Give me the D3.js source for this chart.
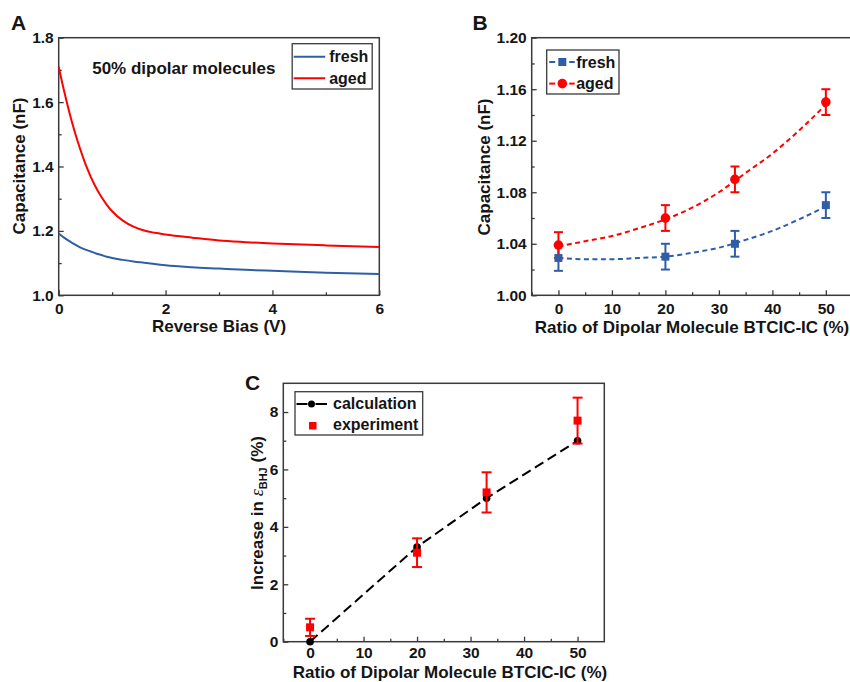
<!DOCTYPE html>
<html>
<head>
<meta charset="utf-8">
<script src="https://cdn.jsdelivr.net/npm/d3@7"></script>
<style>
  body { margin: 0; background: #fff; }
  svg text { font-family: "Liberation Sans", Arial, sans-serif; font-weight: bold; fill: #151515; }
</style>
</head>
<body>
<svg id="fig" width="850" height="682"></svg>
<script>
// ---- panel A: C-V curves, 50% dipolar molecules
const biasV  = [0, 0.1, 0.2, 0.3, 0.4, 0.5, 0.6, 0.7, 0.8, 0.9, 1.0, 1.2, 1.4, 1.6, 1.8, 2.0, 2.5, 3.0, 3.5, 4.0, 5.0, 6.0];
const freshA = [1.192, 1.179, 1.168, 1.158, 1.149, 1.142, 1.136, 1.130, 1.125, 1.120, 1.116, 1.110, 1.105, 1.101, 1.097, 1.093, 1.087, 1.083, 1.079, 1.076, 1.070, 1.066];
const agedA  = [1.710, 1.635, 1.568, 1.508, 1.455, 1.408, 1.368, 1.334, 1.305, 1.281, 1.261, 1.232, 1.213, 1.201, 1.194, 1.189, 1.179, 1.170, 1.165, 1.161, 1.155, 1.150];

// ---- panel B: capacitance vs ratio
const ratioB    = [0, 20, 33, 50];
const freshB    = [1.029, 1.030, 1.040, 1.070];
const freshErrB = [0.010, 0.010, 0.010, 0.010];
const agedB     = [1.039, 1.060, 1.090, 1.150];
const agedErrB  = [0.010, 0.010, 0.010, 0.010];
const fitX      = [0, 5, 10, 15, 20, 25, 30, 35, 40, 45, 50];
const freshFit  = [1.029, 1.028, 1.028, 1.029, 1.030, 1.033, 1.037, 1.043, 1.050, 1.059, 1.069];
const agedFit   = [1.038, 1.042, 1.046, 1.052, 1.059, 1.068, 1.080, 1.095, 1.110, 1.128, 1.148];

// ---- panel C: increase in epsilon
const ratioC   = [0, 20, 33, 50];
const calcC    = [0, 3.3, 5.0, 7.0];
const expC     = [0.5, 3.1, 5.2, 7.7];
const expErrC  = [0.3, 0.5, 0.7, 0.8];

const BLUE = "#2e5fa6", RED = "#ff0000", AXIS = "#3a3a3a";
const svg = d3.select("#fig");

function panel(left, top, w, h, xDom, yDom, o) {
  const g = svg.append("g").attr("transform", `translate(${left},${top})`);
  const x = d3.scaleLinear().domain(xDom).range([0, w]);
  const y = d3.scaleLinear().domain(yDom).range([h, 0]);

  g.append("g").attr("transform", `translate(0,${h})`)
    .call(d3.axisBottom(x).tickValues(o.xt).tickSize(-5).tickPadding(o.xpad).tickFormat(d3.format("d")));
  g.append("g").attr("transform", `translate(0,${h})`)
    .call(d3.axisBottom(x).tickValues(o.xm).tickSize(-3).tickFormat(""));
  g.append("g")
    .call(d3.axisLeft(y).tickValues(o.yt).tickSize(-5).tickPadding(5).tickFormat(d3.format(o.yfmt)));
  g.append("g")
    .call(d3.axisLeft(y).tickValues(o.ym).tickSize(-3).tickFormat(""));
  g.selectAll(".domain").remove();
  g.selectAll(".tick line").attr("stroke", AXIS).attr("stroke-width", 1.3);
  g.selectAll(".tick text").style("font-size", "15.5px").attr("fill", "#151515");

  g.append("rect").attr("width", w).attr("height", h)
    .attr("fill", "none").attr("stroke", AXIS).attr("stroke-width", 1.5);
  return { g, x, y };
}

function errBars(g, x, y, xs, ys, es, color, cap) {
  xs.forEach((xv, i) => {
    const cx = x(xv), y0 = y(ys[i] - es[i]), y1 = y(ys[i] + es[i]);
    g.append("line").attr("x1", cx).attr("x2", cx).attr("y1", y0).attr("y2", y1)
      .attr("stroke", color).attr("stroke-width", 2);
    [y0, y1].forEach(yy => g.append("line")
      .attr("x1", cx - cap).attr("x2", cx + cap).attr("y1", yy).attr("y2", yy)
      .attr("stroke", color).attr("stroke-width", 2));
  });
}

// legend line drawn as two short pieces either side of the marker
function legendDash(lg, x0, x1, x2, x3, yy, color) {
  [[x0, x1], [x2, x3]].forEach(([a, b]) => lg.append("line")
    .attr("x1", a).attr("x2", b).attr("y1", yy).attr("y2", yy)
    .attr("stroke", color).attr("stroke-width", 2));
}

// ================= A =================
{
  const { g, x, y } = panel(58.7, 37.7, 320.6, 257.6, [0, 6], [1.0, 1.8], {
    xt: [0, 2, 4, 6], xm: [1, 3, 5], yt: [1.0, 1.2, 1.4, 1.6, 1.8], ym: [1.1, 1.3, 1.5, 1.7],
    yfmt: ".1f", xpad: 8
  });
  const line = d3.line().x((d, i) => x(biasV[i])).y(d => y(d)).curve(d3.curveMonotoneX);
  g.append("path").attr("d", line(freshA)).attr("fill", "none").attr("stroke", BLUE).attr("stroke-width", 2);
  g.append("path").attr("d", line(agedA)).attr("fill", "none").attr("stroke", RED).attr("stroke-width", 2);

  g.append("text").attr("x", 33.5).attr("y", 36.5).style("font-size", "17px").text("50% dipolar molecules");

  const lg = g.append("g").attr("transform", "translate(233.5,6)");
  lg.append("rect").attr("width", 80).attr("height", 45.3).attr("fill", "#fff").attr("stroke", AXIS).attr("stroke-width", 1.3);
  [["fresh", BLUE], ["aged", RED]].forEach(([t, c], i) => {
    const yy = 13 + i * 21.6;
    lg.append("line").attr("x1", 1.5).attr("x2", 33).attr("y1", yy).attr("y2", yy).attr("stroke", c).attr("stroke-width", 2);
    lg.append("text").attr("x", 37).attr("y", yy + 5.5).style("font-size", "16px").text(t);
  });

  svg.append("text").attr("x", 219).attr("y", 332).attr("text-anchor", "middle").style("font-size", "17px").text("Reverse Bias (V)");
  svg.append("text").attr("transform", "translate(25,166) rotate(-90)").attr("text-anchor", "middle")
    .style("font-size", "17px").text("Capacitance (nF)");
  svg.append("text").attr("x", 11).attr("y", 29.5).style("font-size", "21px").text("A");
}

// ================= B =================
{
  const { g, x, y } = panel(531.7, 37.7, 320.9, 257.6, [-5, 55], [1.0, 1.2], {
    xt: [0, 10, 20, 30, 40, 50], xm: [-5, 5, 15, 25, 35, 45], yt: [1.0, 1.04, 1.08, 1.12, 1.16, 1.2],
    ym: [1.02, 1.06, 1.1, 1.14, 1.18], yfmt: ".2f", xpad: 8
  });
  const line = d3.line().x((d, i) => x(fitX[i])).y(d => y(d)).curve(d3.curveMonotoneX);
  g.append("path").attr("d", line(freshFit)).attr("fill", "none").attr("stroke", BLUE)
    .attr("stroke-width", 2).attr("stroke-dasharray", "5,3.5");
  g.append("path").attr("d", line(agedFit)).attr("fill", "none").attr("stroke", RED)
    .attr("stroke-width", 2).attr("stroke-dasharray", "5,3.5");

  errBars(g, x, y, ratioB, freshB, freshErrB, BLUE, 4.5);
  errBars(g, x, y, ratioB, agedB, agedErrB, RED, 4.5);
  g.selectAll(".sq").data(ratioB).enter().append("rect").attr("class", "sq")
    .attr("x", (d) => x(d) - 4).attr("y", (d, i) => y(freshB[i]) - 4)
    .attr("width", 8).attr("height", 8).attr("fill", BLUE);
  g.selectAll(".dot").data(ratioB).enter().append("circle").attr("class", "dot")
    .attr("cx", d => x(d)).attr("cy", (d, i) => y(agedB[i])).attr("r", 4.8).attr("fill", RED);

  const lg = g.append("g").attr("transform", "translate(15,12.3)");
  lg.append("rect").attr("width", 72.3).attr("height", 44).attr("fill", "#fff").attr("stroke", AXIS).attr("stroke-width", 1.3);
  [["fresh", BLUE, "sq"], ["aged", RED, "dot"]].forEach(([t, c, m], i) => {
    const yy = 12 + i * 21.6;
    legendDash(lg, 2.5, 8.5, 22.5, 28, yy, c);
    if (m === "sq") lg.append("rect").attr("x", 11.6).attr("y", yy - 4).attr("width", 8).attr("height", 8).attr("fill", c);
    else lg.append("circle").attr("cx", 15.6).attr("cy", yy).attr("r", 4.8).attr("fill", c);
    lg.append("text").attr("x", 29.5).attr("y", yy + 5.5).style("font-size", "16px").text(t);
  });

  svg.append("text").attr("x", 692).attr("y", 333).attr("text-anchor", "middle").style("font-size", "17px")
    .text("Ratio of Dipolar Molecule BTCIC-IC (%)");
  svg.append("text").attr("transform", "translate(490,167) rotate(-90)").attr("text-anchor", "middle")
    .style("font-size", "17px").text("Capacitance (nF)");
  svg.append("text").attr("x", 472.5).attr("y", 29.5).style("font-size", "21px").text("B");
}

// ================= C =================
{
  const { g, x, y } = panel(283.3, 383.3, 321, 258.4, [-5, 55], [0, 9], {
    xt: [0, 10, 20, 30, 40, 50], xm: [-5, 5, 15, 25, 35, 45], yt: [0, 2, 4, 6, 8], ym: [1, 3, 5, 7],
    yfmt: "d", xpad: 5
  });
  const line = d3.line().x((d, i) => x(ratioC[i])).y(d => y(d));
  g.append("path").attr("d", line(calcC)).attr("fill", "none").attr("stroke", "#000")
    .attr("stroke-width", 2).attr("stroke-dasharray", "10,5");
  g.selectAll(".cd").data(ratioC).enter().append("circle").attr("class", "cd")
    .attr("cx", d => x(d)).attr("cy", (d, i) => y(calcC[i])).attr("r", 3.8).attr("fill", "#000");
  errBars(g, x, y, ratioC, expC, expErrC, RED, 5);
  g.selectAll(".es").data(ratioC).enter().append("rect").attr("class", "es")
    .attr("x", d => x(d) - 4).attr("y", (d, i) => y(expC[i]) - 4)
    .attr("width", 8).attr("height", 8).attr("fill", RED);

  const lg = g.append("g").attr("transform", "translate(11.7,8.4)");
  lg.append("rect").attr("width", 127.7).attr("height", 43.3).attr("fill", "#fff").attr("stroke", AXIS).attr("stroke-width", 1.3);
  legendDash(lg, 1.5, 12.5, 20.5, 32, 12.3, "#000");
  lg.append("circle").attr("cx", 16.5).attr("cy", 12.3).attr("r", 3.5).attr("fill", "#000");
  lg.append("text").attr("x", 38).attr("y", 17.5).style("font-size", "16px").text("calculation");
  lg.append("rect").attr("x", 14).attr("y", 30.3).attr("width", 7.5).attr("height", 7.5).attr("fill", RED);
  lg.append("text").attr("x", 38).attr("y", 38.8).style("font-size", "16px").text("experiment");

  svg.append("text").attr("x", 450).attr("y", 678).attr("text-anchor", "middle").style("font-size", "17px")
    .text("Ratio of Dipolar Molecule BTCIC-IC (%)");
  const yt = svg.append("text").attr("transform", "translate(263,513) rotate(-90)").attr("text-anchor", "middle")
    .style("font-size", "17px");
  yt.append("tspan").text("Increase in ");
  yt.append("tspan").style("font-family", "'Liberation Serif', serif").style("font-weight", "normal")
    .style("font-style", "italic").style("font-size", "18px").text("ε");
  yt.append("tspan").style("font-size", "11px").attr("dy", 4).text("BHJ");
  yt.append("tspan").attr("dy", -4).text(" (%)");
  svg.append("text").attr("x", 245).attr("y", 389.5).style("font-size", "21px").text("C");
}
</script>
</body>
</html>
